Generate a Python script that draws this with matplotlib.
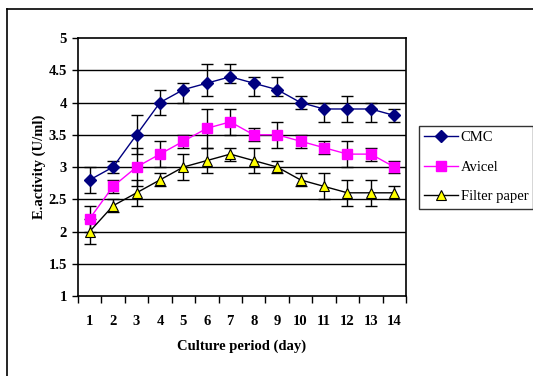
import numpy as np
import matplotlib
matplotlib.use("Agg")
import matplotlib.pyplot as plt
from matplotlib.lines import Line2D

days = list(range(1, 15))

cmc = [2.8, 3.0, 3.5, 4.0, 4.2, 4.3, 4.4, 4.3, 4.2, 4.0, 3.9, 3.9, 3.9, 3.8]
cmc_lo = [0.2, 0.1, 0.3, 0.2, 0.2, 0.2, 0.1, 0.2, 0.1, 0.1, 0.2, 0.2, 0.2, 0.1]
cmc_hi = [0.2, 0.1, 0.3, 0.2, 0.1, 0.3, 0.2, 0.1, 0.2, 0.1, 0.1, 0.2, 0.1, 0.1]

avicel = [2.2, 2.7, 3.0, 3.2, 3.4, 3.6, 3.7, 3.5, 3.5, 3.4, 3.3, 3.2, 3.2, 3.0]
avicel_err = [0.2, 0.1, 0.3, 0.2, 0.1, 0.3, 0.2, 0.1, 0.2, 0.1, 0.1, 0.2, 0.1, 0.1]

filter_paper = [2.0, 2.4, 2.6, 2.8, 3.0, 3.1, 3.2, 3.1, 3.0, 2.8, 2.7, 2.6, 2.6, 2.6]
filter_err = [0.2, 0.1, 0.2, 0.1, 0.2, 0.2, 0.1, 0.2, 0.1, 0.1, 0.2, 0.2, 0.2, 0.1]

plt.rcParams['font.family'] = ['Liberation Serif', 'DejaVu Serif']

fig = plt.figure(figsize=(5.33, 3.76), dpi=100)
ax = fig.add_axes([0.1463, 0.2128, 0.6154, 0.686])

# horizontal grid
for g in np.arange(1.5, 5.0, 0.5):
    ax.axhline(g, color='black', lw=1, zorder=0)

ax.errorbar(days, cmc, yerr=[cmc_lo, cmc_hi], fmt='none', ecolor='black',
            elinewidth=1, capsize=4, capthick=1, zorder=2)
ax.errorbar(days, avicel, yerr=avicel_err, fmt='none', ecolor='black',
            elinewidth=1, capsize=4, capthick=1, zorder=2)
ax.errorbar(days, filter_paper, yerr=filter_err, fmt='none', ecolor='black',
            elinewidth=1, capsize=4, capthick=1, zorder=2)

ax.plot(days, cmc, color='#000080', marker='D', ms=6, mfc='#000080',
        mec='#000080', lw=1, label='CMC', zorder=3)
ax.plot(days, avicel, color='#FF00FF', marker='s', ms=6.5, mfc='#FF00FF',
        mec='#FF00FF', lw=1, label='Avicel', zorder=3)
ax.plot(days, filter_paper, color='black', marker='^', ms=7, mfc='#FFFF00',
        mec='black', mew=0.8, lw=1, label='Filter paper', zorder=3)

ax.set_xlim(0.5, 14.5)
ax.set_ylim(1, 5)
ax.set_yticks(np.arange(1, 5.01, 0.5))
ax.set_yticklabels(['1', '1.5', '2', '2.5', '3', '3.5', '4', '4.5', '5'],
                   fontweight='bold', fontsize=10.5)
ax.set_xticks(days)
ax.set_xticklabels([str(d) for d in days], fontweight='bold', fontsize=10.5)
ax.set_xticks(np.arange(0.5, 14.6, 1), minor=True)
ax.tick_params(axis='x', which='major', length=0, pad=14)
ax.tick_params(axis='x', which='minor', length=5, direction='out', width=1)
ax.tick_params(axis='y', which='major', length=4, direction='out', width=1, pad=4)

for s in ax.spines.values():
    s.set_linewidth(1.2)
    s.set_color('black')

ax.set_ylabel('E.activity (U/ml)', fontweight='bold', fontsize=10.5, labelpad=2)
ax.set_xlabel('Culture period (day)', fontweight='bold', fontsize=10.5, labelpad=8)

leg = ax.legend(loc='upper left', bbox_to_anchor=(1.04, 0.659), frameon=True,
                fancybox=False, edgecolor='black', fontsize=10.5,
                handlelength=2.3, borderpad=0.35, labelspacing=1.12,
                handletextpad=0.2, borderaxespad=0)
leg.get_frame().set_linewidth(1)

# outer frame
fig.add_artist(Line2D([7 / 533, 7 / 533], [0, 1 - 9 / 376], color='black', lw=1.2))
fig.add_artist(Line2D([7 / 533, 1], [1 - 9 / 376, 1 - 9 / 376], color='black', lw=1.2))

fig.savefig('out.png', dpi=100)
